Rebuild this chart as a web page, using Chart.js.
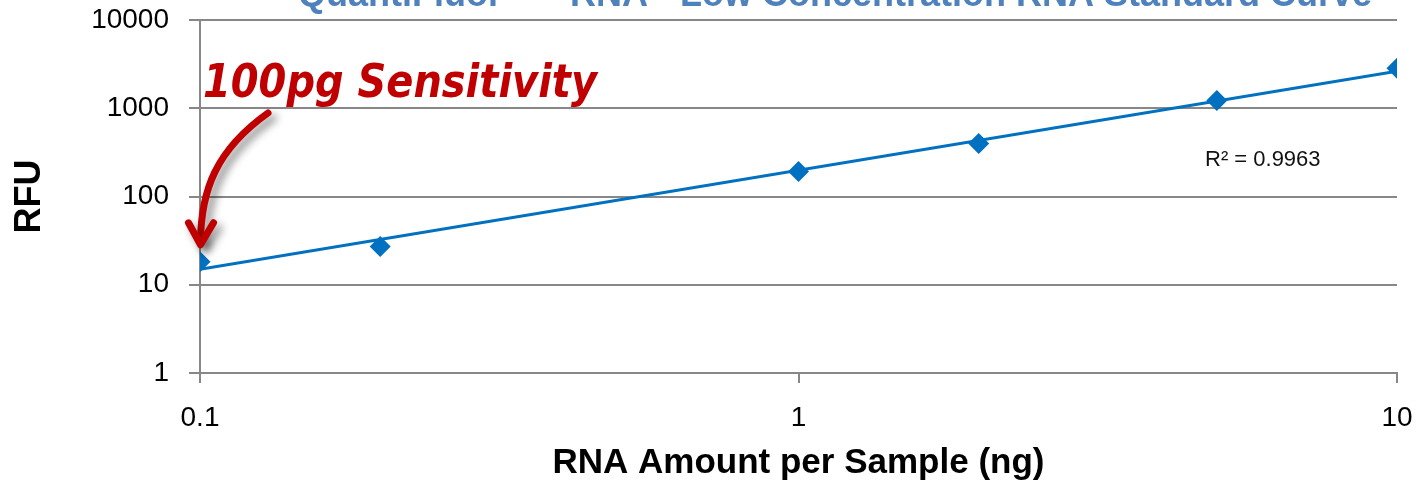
<!DOCTYPE html>
<html>
<head>
<meta charset="utf-8">
<script src="https://cdn.jsdelivr.net/npm/chart.js@4/dist/chart.umd.min.js"></script>
<style>
  html, body { margin: 0; padding: 0; background: #fff; overflow: hidden; }
  #wrap { width: 1419px; height: 486px; position: relative; }
</style>
</head>
<body>
<div id="wrap"><canvas id="c"></canvas></div>
<script>
// ---- data ----
const chartTitle = 'QuantiFluor™ - RNA - Low Concentration RNA Standard Curve';
const xAxisTitle = 'RNA Amount per Sample (ng)';
const yAxisTitle = 'RFU';
const rnaAmounts = [0.1, 0.2, 1, 2, 5, 10];          // ng per sample
const rfuValues  = [18.2, 27.2, 192, 398, 1222, 2845];
const xTickValues = [0.1, 1, 10];
const xTickLabels = ['0.1', '1', '10'];
const yTickValues = [1, 10, 100, 1000, 10000];
const yTickLabels = ['1', '10', '100', '1000', '10000'];
const calloutText = '100pg Sensitivity';
const rSquaredText = 'R\u00B2 = 0.9963';

// Power-law trendline: least squares on log10(x), log10(y)
function powerFit(xs, ys) {
  const lx = xs.map(Math.log10), ly = ys.map(Math.log10);
  const n = lx.length;
  const mx = lx.reduce((a, b) => a + b, 0) / n;
  const my = ly.reduce((a, b) => a + b, 0) / n;
  let sxy = 0, sxx = 0;
  for (let i = 0; i < n; i++) { sxy += (lx[i] - mx) * (ly[i] - my); sxx += (lx[i] - mx) ** 2; }
  const b = sxy / sxx;
  const a = Math.pow(10, my - b * mx);
  return x => a * Math.pow(x, b);
}
const trend = powerFit(rnaAmounts, rfuValues);
const trendPoints = [xTickValues[0], xTickValues[xTickValues.length - 1]].map(x => ({ x, y: trend(x) }));
const points = rnaAmounts.map((x, i) => ({ x, y: rfuValues[i] }));

const BLUE = '#0070C0';
const GRID = '#878787';
const FONT = "'Liberation Sans', Arial, sans-serif";
const TICK_SIZE = 28;

// Title sits above the canvas edge, only its lower part shows
const topTitle = {
  id: 'topTitle',
  afterDraw(chart) {
    const ctx = chart.ctx;
    ctx.save();
    ctx.font = 'bold 36px ' + FONT;
    ctx.fillStyle = '#4F81BD';
    ctx.textAlign = 'center';
    ctx.textBaseline = 'alphabetic';
    ctx.fillText(chartTitle, 835, 6);
    ctx.restore();
  }
};

// Hand-drawn style callout pointing at the lowest standard
const callout = {
  id: 'callout',
  afterDatasetsDraw(chart) {
    const ctx = chart.ctx;
    const xs = chart.scales.x, ys = chart.scales.y;
    const tipX = xs.getPixelForValue(rnaAmounts[0]) + 0.5;
    const tipY = ys.getPixelForValue(rfuValues[0]) - 17;

    ctx.save();
    // arrow with soft drop shadow
    ctx.shadowColor = 'rgba(0,0,0,0.45)';
    ctx.shadowBlur = 9;
    ctx.shadowOffsetX = 5;
    ctx.shadowOffsetY = 5;
    ctx.strokeStyle = '#C00000';
    ctx.lineWidth = 7;
    ctx.lineCap = 'round';
    ctx.lineJoin = 'round';
    ctx.beginPath();
    ctx.moveTo(268, 113);
    ctx.bezierCurveTo(216, 150, 201, 190, tipX, tipY - 3);
    ctx.stroke();
    ctx.beginPath();
    ctx.moveTo(tipX - 12, tipY - 22);
    ctx.lineTo(tipX, tipY);
    ctx.lineTo(tipX + 13, tipY - 22);
    ctx.stroke();
    ctx.restore();

    // caption
    ctx.save();
    ctx.font = "bold italic 47px 'DejaVu Sans', sans-serif";
    ctx.fillStyle = '#C00000';
    ctx.textBaseline = 'alphabetic';
    const w = ctx.measureText(calloutText).width;
    const sx = 394 / w;
    ctx.translate(203, 97);
    ctx.scale(sx, 1);
    ctx.fillText(calloutText, 0, 0);
    ctx.restore();

    // trendline fit label
    ctx.save();
    ctx.font = '22px ' + FONT;
    ctx.fillStyle = '#111';
    ctx.textBaseline = 'alphabetic';
    ctx.fillText(rSquaredText, chart.chartArea.right - 192, chart.chartArea.top + 146);
    ctx.restore();
  }
};

new Chart(document.getElementById('c'), {
  type: 'scatter',
  data: {
    datasets: [
      {
        label: 'RFU',
        data: points,
        pointStyle: 'rectRot',
        pointRadius: 10.5,
        pointHoverRadius: 10.5,
        backgroundColor: BLUE,
        borderColor: BLUE,
        borderWidth: 0,
        order: 0
      },
      {
        type: 'line',
        label: 'Power fit',
        data: trendPoints,
        borderColor: BLUE,
        borderWidth: 3,
        pointRadius: 0,
        fill: false,
        order: 1
      }
    ]
  },
  options: {
    responsive: true,
    maintainAspectRatio: false,
    animation: false,
    layout: { padding: { top: 20, right: 22, bottom: 0, left: 0 } },
    plugins: {
      legend: { display: false },
      tooltip: { enabled: false },
      title: { display: false }
    },
    scales: {
      x: {
        type: 'logarithmic',
        position: 'bottom',
        min: xTickValues[0],
        max: xTickValues[xTickValues.length - 1],
        afterBuildTicks: s => { s.ticks = xTickValues.map(v => ({ value: v })); },
        afterFit: s => { s.height = 113; s.paddingLeft = 0; s.paddingRight = 0; },
        grid: { drawOnChartArea: false, drawTicks: true, tickLength: 10, color: GRID, lineWidth: 2 },
        border: { display: true, color: GRID, width: 2 },
        ticks: {
          autoSkip: false, maxRotation: 0, padding: 18, color: '#000',
          font: { family: FONT, size: TICK_SIZE },
          callback: (v, i) => xTickLabels[i]
        },
        title: {
          display: true, text: xAxisTitle, color: '#000',
          font: { family: FONT, size: 35, weight: 'bold' },
          padding: { top: 0, bottom: 2 }
        }
      },
      y: {
        type: 'logarithmic',
        min: yTickValues[0],
        max: yTickValues[yTickValues.length - 1],
        afterBuildTicks: s => { s.ticks = yTickValues.map(v => ({ value: v })); },
        afterFit: s => { s.width = 200; s.paddingTop = 0; s.paddingBottom = 0; },
        grid: { color: GRID, lineWidth: 2, drawTicks: true, tickLength: 11 },
        border: { display: true, color: GRID, width: 2 },
        ticks: {
          autoSkip: false, padding: 20, color: '#000',
          font: { family: FONT, size: TICK_SIZE },
          callback: (v, i) => yTickLabels[i]
        },
        title: {
          display: true, text: yAxisTitle, color: '#000',
          font: { family: FONT, size: 36, weight: 'bold' },
          padding: { top: 8, bottom: 0 }
        }
      }
    }
  },
  plugins: [topTitle, callout]
});
</script>
</body>
</html>
